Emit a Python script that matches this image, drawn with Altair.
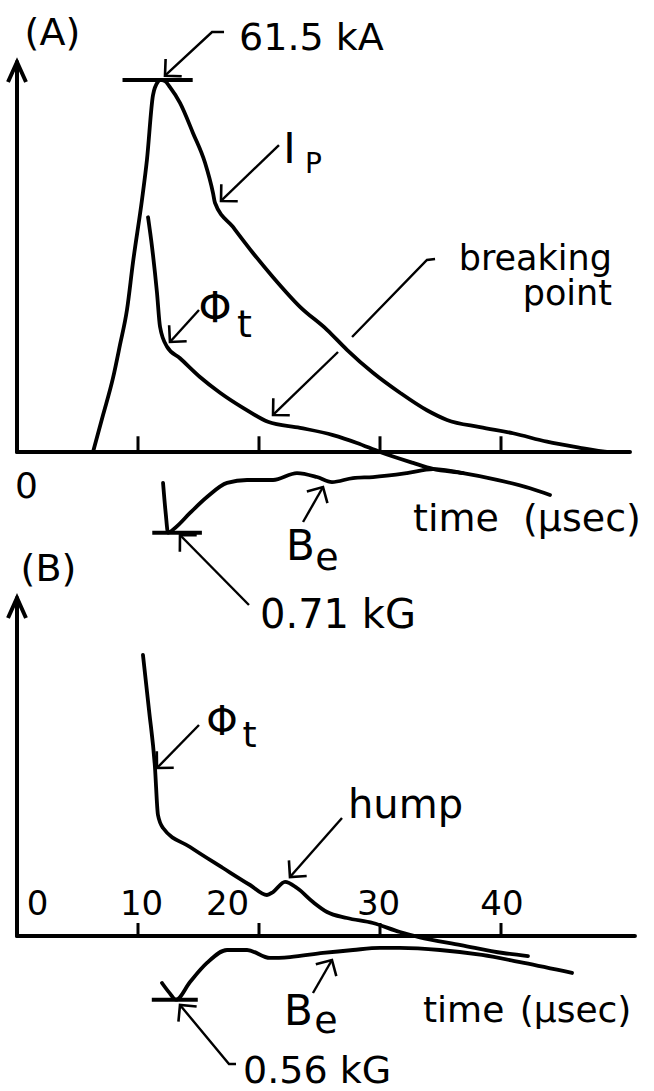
import math
import altair as alt
import pandas as pd

# ---------------- measured traces ----------------
# (A) plasma current I_P [kA]
ip_t = [6.28, 7.11, 7.93, 8.51, 9.09, 9.59, 10.33, 10.74, 11.24, 11.65, 11.82, 12.23,
        12.64, 13.47, 14.55, 15.54, 16.20, 16.36, 17.85, 19.50, 21.16, 23.39, 25.62,
        27.27, 29.42, 31.65, 33.88, 35.54, 38.26, 40.99, 43.80, 46.53, 48.76]
ip_ka = [0.0, 6.1, 12.2, 17.7, 23.5, 31.4, 41.7, 48.3, 59.0, 61.2, 61.5, 61.3,
         60.3, 57.7, 52.7, 47.8, 42.8, 41.2, 37.2, 32.9, 28.9, 24.0, 20.2,
         16.9, 13.1, 9.8, 6.9, 5.3, 4.1, 3.1, 1.7, 0.7, 0.0]

# (A) toroidal flux Phi_t [arb. units]
phiA_t = [10.83, 11.16, 11.57, 11.82, 12.40, 13.47, 15.12, 16.78, 18.68, 20.74,
          23.39, 26.12, 28.10, 30.00, 32.73, 34.38, 36.86, 39.67, 42.40, 44.05]
phiA = [38.8, 33.9, 26.3, 20.7, 17.4, 15.5, 12.4, 9.8, 7.3, 5.0,
        4.0, 2.8, 1.5, 0.0, -1.8, -2.8, -3.5, -4.6, -6.0, -7.1]

# (A) external field B_e [kG]
beA_t = [12.07, 12.30, 12.48, 13.06, 14.30, 15.70, 17.36, 19.01, 21.16, 23.14,
         24.79, 26.03, 27.77, 29.42, 32.23, 34.38, 36.86]
beA = [-0.272, -0.55, -0.71, -0.668, -0.536, -0.396, -0.272, -0.246, -0.246, -0.185,
       -0.220, -0.264, -0.229, -0.220, -0.185, -0.150, -0.185]

# (B) toroidal flux Phi_t [arb. units]
phiB_t = [10.41, 10.91, 11.40, 11.65, 12.07, 14.30, 17.02, 19.26, 20.66, 21.16, 22.15,
          23.14, 24.46, 25.62, 27.27, 29.42, 31.65, 33.22, 36.69, 40.17, 42.23]
phiB = [46.45, 37.36, 27.93, 20.0, 17.85, 14.71, 11.24, 8.43, 6.78, 7.27, 8.93,
        7.93, 5.62, 3.97, 2.98, 2.15, 0.66, -0.17, -1.49, -2.81, -3.31]

# (B) external field B_e [kG]
beB_t = [11.98, 12.60, 13.14, 14.30, 15.70, 17.36, 19.01, 20.91, 22.56, 25.29,
         27.77, 30.00, 31.65, 34.96, 38.43, 41.90, 45.87]
beB = [-0.413, -0.50, -0.56, -0.404, -0.237, -0.123, -0.123, -0.193, -0.185, -0.149,
       -0.123, -0.105, -0.105, -0.123, -0.167, -0.237, -0.325]

tick_values = [10, 20, 30, 40]
tick_labels_B = ["0", "10", "20", "30", "40"]

# ---------------- layout ----------------
W = 654
HA, HB = 555, 536            # panel heights
AXIS_A, AXIS_B = 452, 381    # baseline position inside each panel
PX_PER_US = 12.1
PX_PER_UNIT = 6.05           # display units (1 unit = 1 kA of I_P)
BE_GAIN = 18.8               # display units per kG
T0_PX = 17
T_MIN = -T0_PX / PX_PER_US
T_MAX = (W - T0_PX) / PX_PER_US
FONT = "DejaVu Sans"

dom_A = [-(HA - AXIS_A) / PX_PER_UNIT, AXIS_A / PX_PER_UNIT]
dom_B = [-(HB - AXIS_B) / PX_PER_UNIT, AXIS_B / PX_PER_UNIT]

CHEVRON = "M-1,-1L0,0L-1,1"
AXIS_HEAD = "M-1,-0.45L0,0L-1,0.45"


def enc(dom):
    x = alt.X("t:Q", scale=alt.Scale(domain=[T_MIN, T_MAX], nice=False, zero=False), axis=None)
    y = alt.Y("a:Q", scale=alt.Scale(domain=dom, nice=False, zero=False), axis=None)
    return x, y


def traces_frame(series):
    rows = []
    for name, ts, vs, gain in series:
        for k, (t, v) in enumerate(zip(ts, vs)):
            rows.append(dict(trace=name, k=k, t=t, v=v, gain=gain))
    return pd.DataFrame(rows)


def leaders_frames(leaders):
    """Polyline rows for every leader; an arrowhead only where the leader ends in one."""
    rows, heads = [], []
    for i, (pts, has_head) in enumerate(leaders):
        for k, (t, a) in enumerate(pts):
            rows.append(dict(id=i, k=k, t=t, a=a))
        if has_head:
            (t1, a1), (t2, a2) = pts[-2], pts[-1]
            dx = (t2 - t1) * PX_PER_US
            dy = -(a2 - a1) * PX_PER_UNIT
            heads.append(dict(t=t2, a=a2, ang=math.degrees(math.atan2(dy, dx)) % 360))
    return pd.DataFrame(rows), pd.DataFrame(heads)


def panel(dom, height, series, markers, y_top, x_end, tick_h, leaders, texts):
    x, y = enc(dom)
    layers = []

    # axes
    axes = pd.DataFrame([
        dict(t=0.0, t2=0.0, a=0.0, a2=y_top),
        dict(t=0.0, t2=x_end, a=0.0, a2=0.0),
    ])
    layers.append(alt.Chart(axes).mark_rule(color="black", strokeWidth=4, strokeCap="round").encode(
        x=x, x2="t2:Q", y=y, y2="a2:Q"))
    ticks = pd.DataFrame(dict(t=tick_values, a=[0.0] * 4, a2=[tick_h] * 4))
    layers.append(alt.Chart(ticks).mark_rule(color="black", strokeWidth=3).encode(
        x=x, y=y, y2="a2:Q"))
    ahead = pd.DataFrame([dict(t=0.0, a=y_top, ang=270)])
    layers.append(alt.Chart(ahead).mark_point(
        shape=AXIS_HEAD, filled=False, color="black", strokeWidth=4, size=1600, opacity=1,
        strokeJoin="miter").encode(x=x, y=y, angle=alt.Angle("ang:Q", scale=None)))

    # signal traces
    tf = traces_frame(series)
    layers.append(alt.Chart(tf).transform_calculate(a="datum.v * datum.gain").mark_line(
        color="black", strokeWidth=3.8, interpolate="monotone", strokeCap="round",
        strokeJoin="round").encode(x=x, y=y, detail="trace:N", order="k:Q"))

    # level markers at the extreme values
    mk = pd.DataFrame([dict(t=t0, t2=t1, a=v * g) for (t0, t1, v, g) in markers])
    layers.append(alt.Chart(mk).mark_rule(color="black", strokeWidth=4).encode(
        x=x, x2="t2:Q", y=y))

    # annotation leaders with open arrowheads
    lf, hf = leaders_frames(leaders)
    layers.append(alt.Chart(lf).mark_line(color="black", strokeWidth=2.4).encode(
        x=x, y=y, detail="id:N", order="k:Q"))
    layers.append(alt.Chart(hf).mark_point(
        shape=CHEVRON, filled=False, color="black", strokeWidth=2.6, size=560, opacity=1).encode(
        x=x, y=y, angle=alt.Angle("ang:Q", scale=None)))

    # lettering (multi-line labels break at "\n")
    td = pd.DataFrame(texts, columns=["s", "t", "a", "fs", "align"])
    for al in ["left", "center", "right"]:
        sub = td[td["align"] == al]
        if len(sub):
            layers.append(alt.Chart(sub).mark_text(
                align=al, baseline="alphabetic", font=FONT, color="black",
                lineBreak="\n", lineHeight=35).encode(
                x=x, y=y, text="s:N", size=alt.Size("fs:Q", scale=None)))

    return alt.layer(*layers).properties(width=W, height=height)


# ---------------- panel (A) ----------------
ip_peak = max(ip_ka)
t_peak = ip_t[ip_ka.index(ip_peak)]
beA_min = min(beA)
tA_min = beA_t[beA.index(beA_min)]

series_A = [("Ip", ip_t, ip_ka, 1.0), ("PhiA", phiA_t, phiA, 1.0), ("BeA", beA_t, beA, BE_GAIN)]
markers_A = [(t_peak - 3.1, t_peak + 2.7, ip_peak, 1.0),
             (tA_min - 1.3, tA_min + 2.8, beA_min, BE_GAIN)]
leaders_A = [
    ([(17.11, 69.42), (16.12, 69.42), (12.23, 62.2)], True),
    ([(21.65, 50.74), (16.86, 41.49)], True),
    # the "breaking point" leader is interrupted where it crosses I_P
    ([(34.55, 31.90), (33.88, 31.74), (27.69, 19.01)], False),
    ([(26.53, 16.53), (21.16, 6.12)], True),
    ([(15.04, 23.47), (12.64, 18.18)], True),
    ([(23.64, -11.57), (25.29, -5.79)], True),
    ([(19.17, -25.29), (13.47, -13.72)], True),
]
texts_A = [
    ("(A)", 2.93, 67.2, 38, "center"),
    (f"{ip_peak:.1f} kA", 18.35, 66.45, 38, "left"),
    ("I", 22.52, 47.77, 42, "center"),
    ("P", 24.50, 46.12, 28, "center"),
    ("breaking\npoint", 49.17, 30.1, 35, "right"),
    ("Φ", 16.36, 21.49, 42, "center"),
    ("t", 18.80, 19.01, 38, "center"),
    ("0", 0.79, -7.60, 36, "center"),
    ("time", 32.73, -13.06, 38, "left"),
    ("(µsec)", 46.69, -13.06, 38, "center"),
    ("B", 23.43, -17.85, 42, "center"),
    ("e", 25.62, -19.50, 38, "center"),
    (f"{-beA_min:.2f} kG", 20.08, -29.09, 40, "left"),
]

# ---------------- panel (B) ----------------
beB_min = min(beB)
tB_min = beB_t[beB.index(beB_min)]
series_B = [("PhiB", phiB_t, phiB, 1.0), ("BeB", beB_t, beB, BE_GAIN)]
markers_B = [(tB_min - 2.0, tB_min + 1.8, beB_min, BE_GAIN)]
leaders_B = [
    ([(15.04, 34.88), (11.57, 27.77)], True),
    ([(26.86, 19.50), (22.56, 9.75)], True),
    ([(24.46, -9.42), (26.03, -3.97)], True),
    ([(18.10, -21.16), (17.52, -21.16), (13.47, -11.40)], True),
]
label_pos_B = [1.69, 10.29, 17.40, 29.88, 40.08]
texts_B = [
    ("(B)", 2.60, 58.6, 38, "center"),
    ("Φ", 16.94, 33.22, 40, "center"),
    ("t", 19.21, 31.24, 36, "center"),
    ("hump", 32.11, 19.50, 40, "center"),
    ("B", 23.26, -14.71, 42, "center"),
    ("e", 25.54, -16.03, 38, "center"),
    ("time", 33.55, -14.21, 36, "left"),
    ("(µsec)", 46.16, -14.21, 36, "center"),
    (f"{-beB_min:.2f} kG", 18.68, -24.3, 38, "left"),
] + [(s, p, 3.47, 34, "center") for s, p in zip(tick_labels_B, label_pos_B)]

panel_A = panel(dom_A, HA, series_A, markers_A, 64.46, 50.66, 2.6, leaders_A, texts_A)
panel_B = panel(dom_B, HB, series_B, markers_B, 55.87, 51.07, 2.15, leaders_B, texts_B)

chart = alt.vconcat(panel_A, panel_B, spacing=0, bounds="flush").resolve_scale(
    x="independent", y="independent"
).properties(padding=0, background="white").configure_view(stroke=None)

chart.save("out.html", embed_options={"renderer": "svg", "actions": False})
